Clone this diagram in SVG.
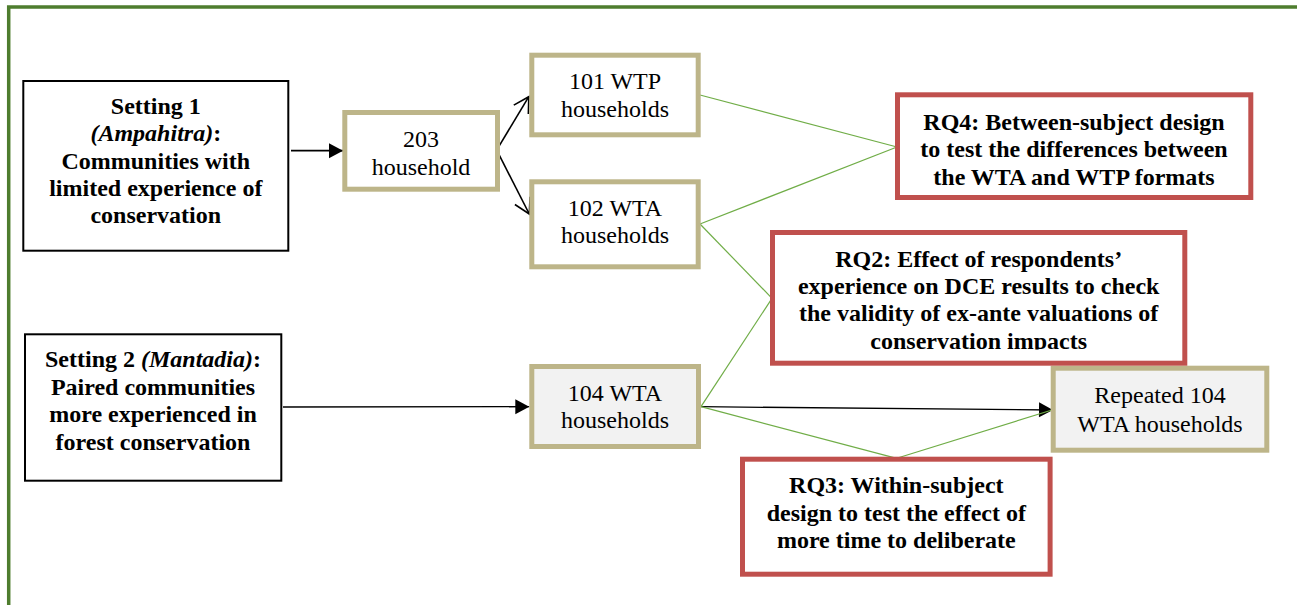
<svg xmlns="http://www.w3.org/2000/svg" width="1297" height="605" viewBox="0 0 1297 605">
<style>
text{font-family:"Liberation Serif","Times New Roman",serif;font-size:24px;fill:#000;text-anchor:middle}
.b{font-weight:bold}
.i{font-style:italic}
.setting{fill:#fff;stroke:#000;stroke-width:2}
.tan{fill:#fff;stroke:#BDB589;stroke-width:5}
.tang{fill:#F2F2F2;stroke:#BDB589;stroke-width:5}
.rq{fill:#fff;stroke:#C0504D;stroke-width:5}
.blk{stroke:#000;fill:none}
.grn{stroke:#70AD47;stroke-width:1.2;fill:none}
</style>
<defs>
<marker id="fa" markerUnits="userSpaceOnUse" viewBox="-15 -8 16 16" refX="0" refY="0" markerWidth="16" markerHeight="16" orient="auto">
<path d="M-14,-7.5 L0,0 L-14,7.5 Z" fill="#000"/>
</marker>
<marker id="oa" markerUnits="userSpaceOnUse" viewBox="-17 -10 19 20" refX="0" refY="0" markerWidth="19" markerHeight="20" orient="auto">
<path d="M-15,-8.5 L0,0 L-15,8.5" fill="none" stroke="#000" stroke-width="1.6"/>
</marker>
<clipPath id="rq2clip"><rect x="770" y="230" width="420" height="119.5"/></clipPath>
</defs>
<rect x="0" y="0" width="1297" height="605" fill="#fff"/>
<rect id="frame" x="8.7" y="7" width="1400" height="700" fill="none" stroke="#4E7D2E" stroke-width="3.5"/>

<g id="connectors">
<line class="blk" x1="291" y1="150.7" x2="343" y2="150.7" stroke-width="1.8" marker-end="url(#fa)"/>
<line class="blk" x1="498.3" y1="147.3" x2="528.8" y2="96.7" stroke-width="1.6" marker-end="url(#oa)"/>
<line class="blk" x1="497.5" y1="151.7" x2="529.3" y2="214" stroke-width="1.6" marker-end="url(#oa)"/>
<line class="blk" x1="283" y1="407" x2="529.3" y2="406.7" stroke-width="1.3" marker-end="url(#fa)"/>
<line class="blk" x1="701" y1="406.7" x2="1053" y2="410" stroke-width="1.3" marker-end="url(#fa)"/>
<line class="grn" x1="700" y1="95" x2="897" y2="147"/>
<line class="grn" x1="700" y1="224" x2="897" y2="147"/>
<line class="grn" x1="700" y1="224" x2="772" y2="298.3"/>
<line class="grn" x1="701" y1="406.7" x2="772" y2="298.3"/>
<line class="grn" x1="701" y1="406.7" x2="896.7" y2="458.3"/>
<line class="grn" x1="896.7" y1="458.3" x2="1052" y2="410"/>
</g>

<g id="setting1">
<rect class="setting" x="23.3" y="81" width="265" height="169.7"/>
<text class="b" x="155.8" y="114">Setting 1</text>
<text class="b" x="155.8" y="141.3"><tspan class="i">(Ampahitra)</tspan>:</text>
<text class="b" x="155.8" y="168.6">Communities with</text>
<text class="b" x="155.8" y="196">limited experience of</text>
<text class="b" x="155.8" y="223.3">conservation</text>
</g>

<g id="setting2">
<rect class="setting" x="25" y="334.3" width="256.3" height="146.4"/>
<text class="b" x="153" y="367"><tspan>Setting 2 </tspan><tspan class="i">(Mantadia)</tspan><tspan>:</tspan></text>
<text class="b" x="153" y="394.5">Paired communities</text>
<text class="b" x="153" y="422">more experienced in</text>
<text class="b" x="153" y="449.5">forest conservation</text>
</g>

<g id="n203">
<rect class="tan" x="344.8" y="112.5" width="152.7" height="76.7"/>
<text x="421" y="146.7">203</text>
<text x="421" y="174.5">household</text>
</g>

<g id="n101">
<rect class="tan" x="531.8" y="55.2" width="166.4" height="79.6"/>
<text x="615" y="89.3">101 WTP</text>
<text x="615" y="116.7">households</text>
</g>

<g id="n102">
<rect class="tan" x="531.8" y="181.8" width="166.4" height="85"/>
<text x="615" y="216">102 WTA</text>
<text x="615" y="243.3">households</text>
</g>

<g id="n104">
<rect class="tang" x="531.8" y="366.5" width="166.7" height="80"/>
<text x="615" y="400.7">104 WTA</text>
<text x="615" y="428.3">households</text>
</g>

<g id="repeated">
<rect class="tang" x="1053.2" y="368.2" width="213.6" height="82"/>
<text x="1160" y="402.7">Repeated 104</text>
<text x="1160" y="431.7">WTA households</text>
</g>

<g id="rq4">
<rect class="rq" x="897.5" y="94.8" width="353.3" height="102.7"/>
<text class="b" x="1074" y="130">RQ4: Between-subject design</text>
<text class="b" x="1074" y="157.3">to test the differences between</text>
<text class="b" x="1074" y="184.7">the WTA and WTP formats</text>
</g>

<g id="rq2">
<rect class="rq" x="772.5" y="232.5" width="412.3" height="130.7"/>
<text class="b" x="978.7" y="266.7">RQ2: Effect of respondents’</text>
<text class="b" x="978.7" y="294">experience on DCE results to check</text>
<text class="b" x="978.7" y="321.2">the validity of ex-ante valuations of</text>
<text class="b" x="978.7" y="348.6" clip-path="url(#rq2clip)">conservation impacts</text>
</g>

<g id="rq3">
<rect class="rq" x="742.5" y="459.2" width="307.6" height="115"/>
<text class="b" x="896.3" y="493.3">RQ3: Within-subject</text>
<text class="b" x="896.3" y="520.7">design to test the effect of</text>
<text class="b" x="896.3" y="548.3">more time to deliberate</text>
</g>
</svg>
